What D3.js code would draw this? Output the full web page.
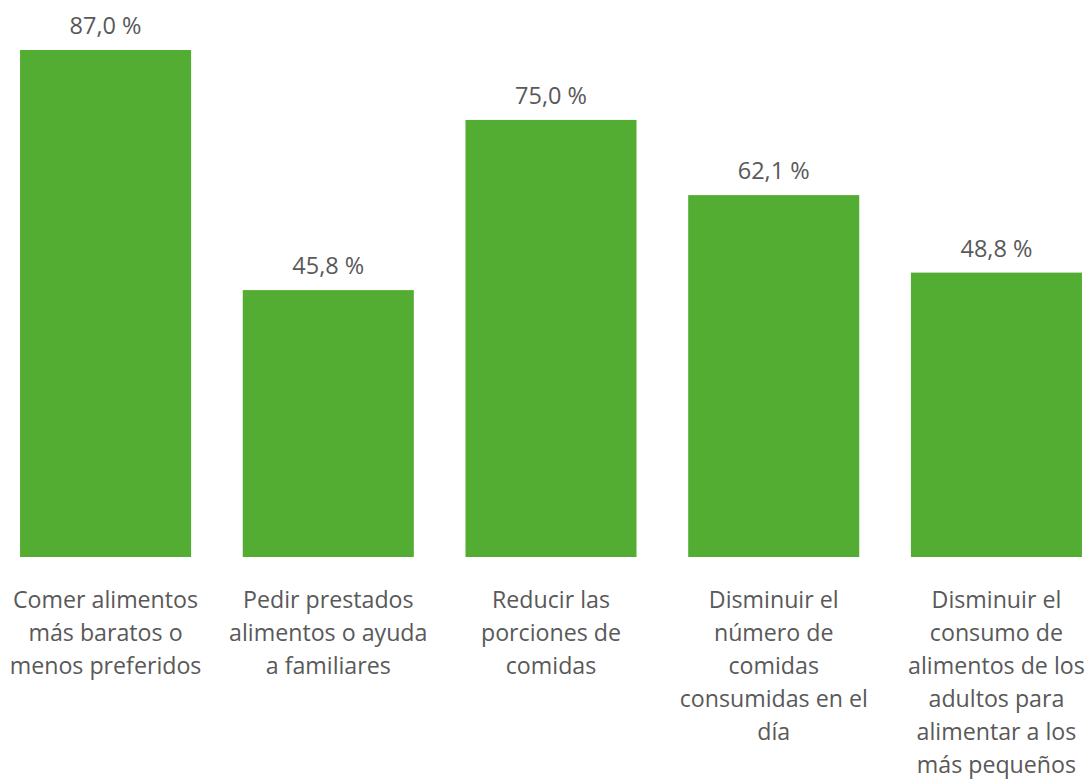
<!DOCTYPE html>
<html><head><meta charset="utf-8">
<script src="https://cdn.jsdelivr.net/npm/d3@7"></script>
<style>body{margin:0;background:#fff}</style>
</head><body><svg id="c" width="1091" height="780"></svg>
<script>
const categories = [
  ["Comer alimentos","más baratos o","menos preferidos"],
  ["Pedir prestados","alimentos o ayuda","a familiares"],
  ["Reducir las","porciones de","comidas"],
  ["Disminuir el","número de","comidas","consumidas en el","día"],
  ["Disminuir el","consumo de","alimentos de los","adultos para","alimentar a los","más pequeños"]
];
const values = [87.0, 45.8, 75.0, 62.1, 48.8];
const valueLabels = ["87,0 %","45,8 %","75,0 %","62,1 %","48,8 %"];

const svg = d3.select("#c");
const font = "'Open Sans', 'Noto Sans', sans-serif";
const x = d3.scaleBand().domain(d3.range(values.length)).range([-5.8, 1107.8]).paddingInner(0.232).paddingOuter(0.116);
const y = d3.scaleLinear().domain([0, 87]).range([557, 50]);

svg.selectAll("rect.bar").data(values).join("rect")
  .attr("x", (d,i)=>x(i)).attr("width", x.bandwidth())
  .attr("y", d=>y(d)).attr("height", d=>y(0)-y(d))
  .attr("fill", "#54ad33");

svg.selectAll("text.val").data(values).join("text")
  .attr("x", (d,i)=>x(i)+x.bandwidth()/2).attr("y", d=>y(d)-16)
  .attr("text-anchor","middle").attr("fill","#595959")
  .style("font-family", font).style("font-size","23.5px")
  .text((d,i)=>valueLabels[i]);

const g = svg.selectAll("text.cat").data(categories).join("text")
  .attr("text-anchor","middle").attr("fill","#595959")
  .style("font-family", font).style("font-size","23.2px");
g.each(function(lines,i){
  d3.select(this).selectAll("tspan").data(lines).join("tspan")
    .attr("x", x(i)+x.bandwidth()/2).attr("y",(d,j)=>608+j*33).text(d=>d);
});
</script></body></html>
